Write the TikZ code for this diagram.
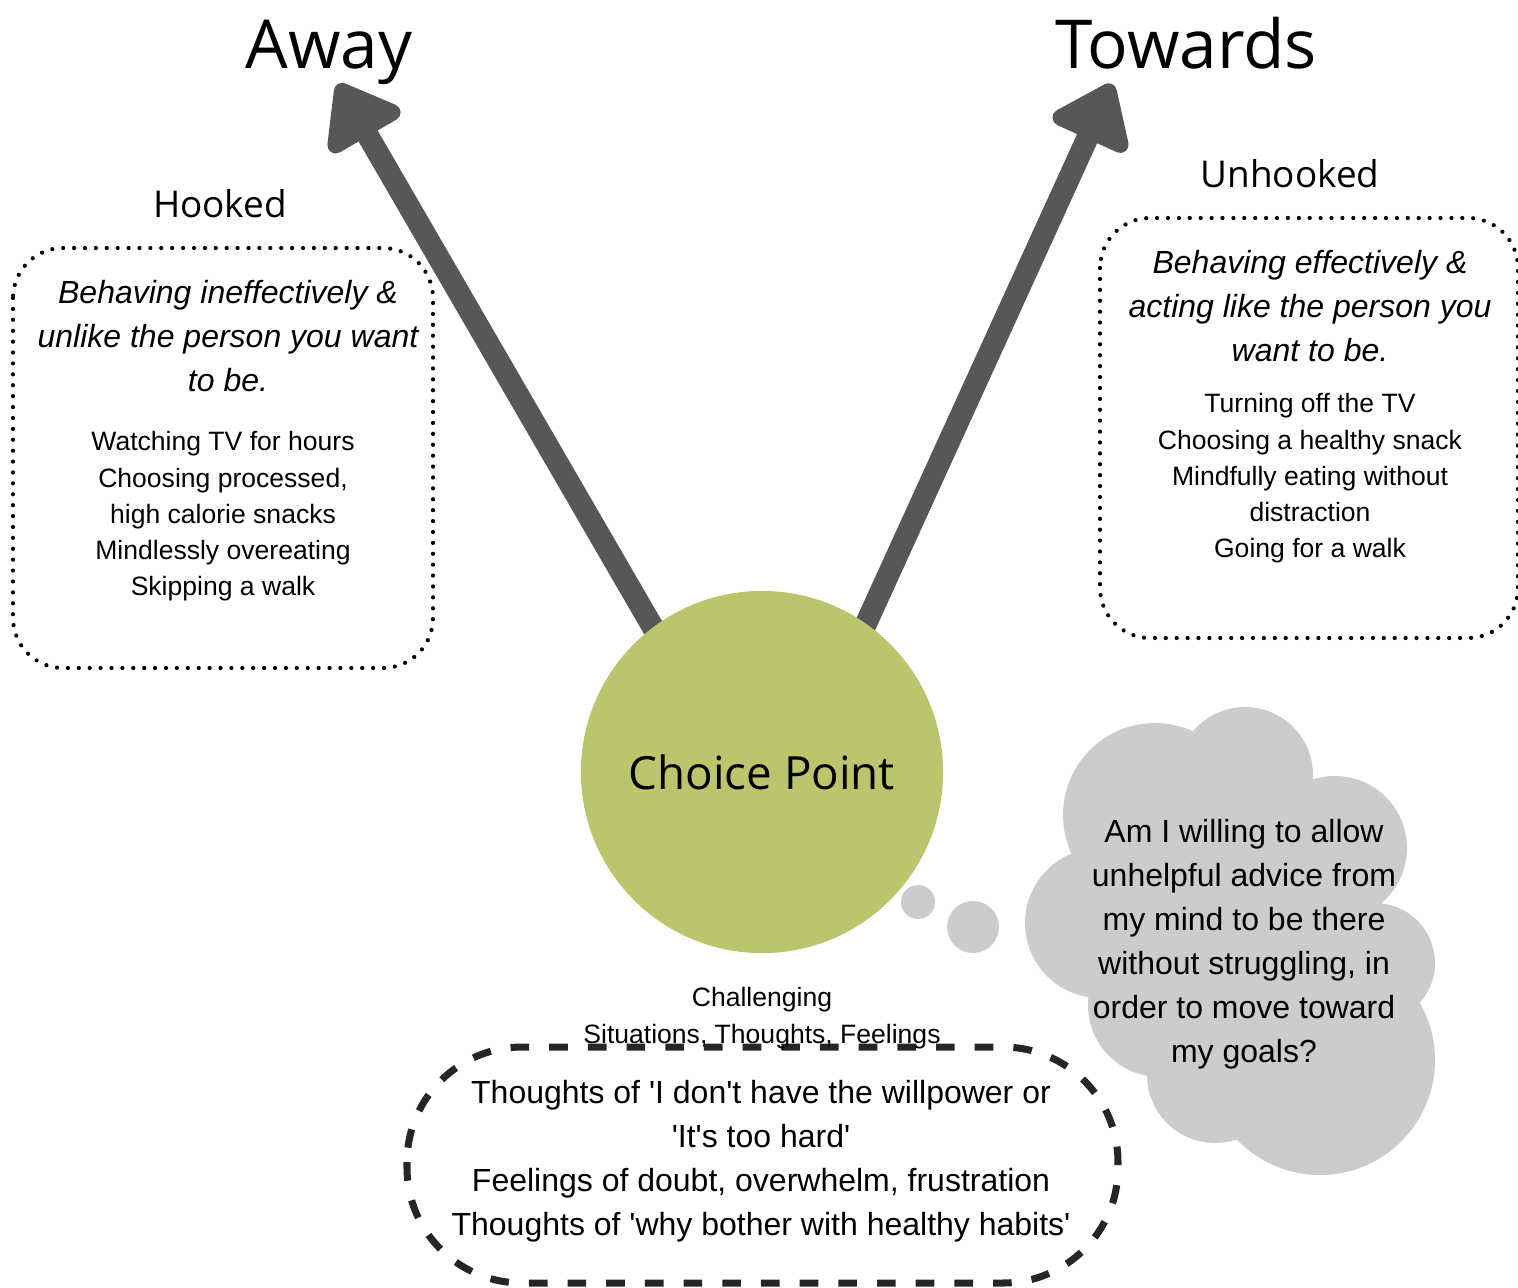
\documentclass[tikz,border=0pt]{standalone}
\usepackage{fontspec}
\setmainfont{Liberation Sans}
\newfontfamily\headfont{Open Sans}
\usetikzlibrary{arrows.meta, positioning}
\definecolor{arrowgray}{HTML}{575757}
\definecolor{choicegreen}{HTML}{BAC56C}
\definecolor{cloudgray}{HTML}{CCCCCC}
\definecolor{dashgray}{HTML}{262626}
\pgfdeclarelayer{back}
\pgfsetlayers{back,main}
\newcommand{\sq}{\textquotesingle}
\tikzset{>=latex}
\tikzset{
  bigarrow/.style={line width=2.2mm, color=arrowgray, shorten <=-4mm,
    -{Triangle[length=6.6mm, width=9.4mm, round]}},
  dotbox/.style={draw, line width=1.2pt, dash pattern=on 0pt off 3.1pt,
    line cap=round, rounded corners=5mm},
  dashbox/.style={draw=dashgray, line width=2pt,
    dash pattern=on 5.3pt off 5.7pt, rounded corners=1.15cm},
  headtext/.style={font=\headfont\fontsize{19.2}{23}\selectfont, anchor=base},
  subtext/.style={font=\headfont\fontsize{10.5}{13}\selectfont, anchor=base},
  bigtext/.style={font=\fontsize{9.1}{12.5}\selectfont, align=center,
    anchor=north, inner sep=0pt},
  smalltext/.style={font=\fontsize{7.55}{10.25}\selectfont, align=center,
    anchor=north, inner sep=0pt},
}

\begin{document}
\begin{tikzpicture}[x=0.01cm, y=-0.01cm]
  \useasboundingbox (0,0) rectangle (1518,1287);
  \coordinate (awaytip) at (338,84); %
  \coordinate (towardstip) at (1112,84); %
  % the choice point and its two ways
  \node[circle, fill=choicegreen, minimum size=3.62cm, inner sep=0pt,
    font=\headfont\fontsize{13}{16}\selectfont] (cp) at (762,772) {Choice Point};
  \begin{pgfonlayer}{back}
    \draw[bigarrow] (cp.127) -- (awaytip); %
    \draw[bigarrow] (cp.55) -- (towardstip); %
  \end{pgfonlayer}
  \node[headtext] (away) at (329,68) {Away};
  \node[headtext] (towards) at (1186,68) {Towards};
  % hooked side
  \draw[dotbox] (13,248) rectangle (433,668);
  \node[subtext] (hooked) at (220,217) {Hooked};
  \node[bigtext, font=\fontsize{9.1}{12.5}\selectfont\itshape] (hookhead) at (228,280)
    {Behaving ineffectively \&\\unlike the person you want\\to be.};
  \node[smalltext] (hooklist) at (223,431)
    {Watching TV for hours\\Choosing processed,\\high calorie snacks\\
     Mindlessly overeating\\Skipping a walk};
  % unhooked side
  \draw[dotbox] (1100,218) rectangle (1518,638);
  \node[subtext] (unhooked) at (1290,187) {Unhooked};
  \node[bigtext, font=\fontsize{9.1}{12.5}\selectfont\itshape] (unhookhead) at (1310,250)
    {Behaving effectively \&\\acting like the person you\\want to be.};
  \node[smalltext] (unhooklist) at (1310,393)
    {Turning off the TV\\Choosing a healthy snack\\Mindfully eating without\\
     distraction\\Going for a walk};
  % thought cloud
  \begin{scope}[fill=cloudgray]
    \foreach \cx/\cy/\r in {1155/815/92, 1245/775/68, 1335/848/72,
      1100/923/75, 1375/963/60, 1160/1005/72, 1215/1075/68,
      1320/1060/115, 1240/930/140, 918/902/17, 973/927/26}
      \fill (\cx,\cy) circle (\r);
  \end{scope}
  \node[bigtext] (cloudtext) at (1244,819)
    {Am I willing to allow\\unhelpful advice from\\my mind to be there\\
     without struggling, in\\order to move toward\\my goals?};
  % challenging situations
  \draw[dashbox] (407,1047) rectangle (1118,1283);
  \node[smalltext] (challenge) at (762,987)
    {Challenging\\Situations, Thoughts, Feelings};
  \node[bigtext] (dashtext) at (761,1080)
    {Thoughts of \sq I don\sq t have the willpower or\\\sq It\sq s too hard\sq\\
     Feelings of doubt, overwhelm, frustration\\
     Thoughts of \sq why bother with healthy habits\sq};
\end{tikzpicture}
\end{document}
